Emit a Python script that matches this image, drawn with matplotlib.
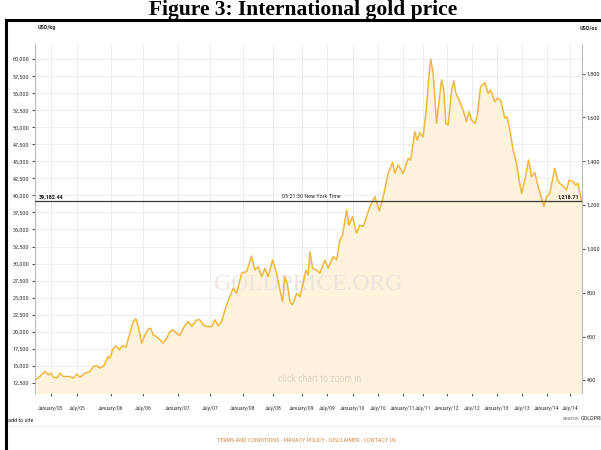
import numpy as np
import matplotlib

matplotlib.use("Agg")
import matplotlib.pyplot as plt
from matplotlib import font_manager
from matplotlib.lines import Line2D
from matplotlib.patches import Rectangle

# narrow sans for the chart text, if one is around
NARROW_CANDIDATES = ["Liberation Sans Narrow", "Roboto Condensed", "Open Sans Condensed",
                     "Arial Narrow", "DejaVu Sans Condensed"]
installed = {f.name for f in font_manager.fontManager.ttflist}
narrow = next((n for n in NARROW_CANDIDATES if n in installed), None)
if narrow is None:
    cond = sorted({f.name for f in font_manager.fontManager.ttflist
                   if str(f.stretch) in ("condensed", "semi-condensed", "extra-condensed")})
    narrow = cond[0] if cond else "DejaVu Sans"
plt.rcParams["font.family"] = [narrow, "DejaVu Sans"]
plt.rcParams["font.stretch"] = "condensed"
SMALL = 4.4 if narrow != "DejaVu Sans" else 3.4

# gold price, USD per kg, sampled along the 10 year chart
YEARS = [
    2004.725, 2004.885, 2004.948, 2004.994, 2005.044, 2005.110, 2005.173, 2005.237,
    2005.365, 2005.429, 2005.494, 2005.544, 2005.618, 2005.691, 2005.740, 2005.790,
    2005.838, 2005.887, 2005.960, 2005.985, 2006.027, 2006.078, 2006.130, 2006.183,
    2006.234, 2006.297, 2006.348, 2006.391, 2006.427, 2006.480, 2006.529, 2006.576,
    2006.610, 2006.647, 2006.696, 2006.743, 2006.790, 2006.839, 2006.886, 2006.933,
    2006.981, 2007.031, 2007.083, 2007.161, 2007.214, 2007.292, 2007.344, 2007.395,
    2007.448, 2007.526, 2007.576, 2007.626, 2007.677, 2007.742, 2007.803, 2007.853,
    2007.905, 2007.980, 2008.062, 2008.145, 2008.200, 2008.255, 2008.312, 2008.367,
    2008.422, 2008.495, 2008.564, 2008.621, 2008.667, 2008.707, 2008.747, 2008.793,
    2008.840, 2008.909, 2008.966, 2009.026, 2009.080, 2009.126, 2009.160, 2009.214,
    2009.294, 2009.360, 2009.460, 2009.525, 2009.621, 2009.687, 2009.750, 2009.802,
    2009.879, 2009.923, 2009.994, 2010.074, 2010.140, 2010.206, 2010.274, 2010.340,
    2010.406, 2010.440, 2010.530, 2010.606, 2010.706, 2010.794, 2010.840, 2010.906,
    2011.008, 2011.133, 2011.193, 2011.300, 2011.358, 2011.425, 2011.506, 2011.577,
    2011.631, 2011.667, 2011.715, 2011.785, 2011.840, 2011.890, 2011.938, 2011.979,
    2012.026, 2012.094, 2012.140, 2012.180, 2012.246, 2012.326, 2012.394, 2012.446,
    2012.494, 2012.560, 2012.606, 2012.674, 2012.760, 2012.826, 2012.874, 2012.960,
    2013.014, 2013.074, 2013.160, 2013.206, 2013.260, 2013.326, 2013.394, 2013.446,
    2013.494, 2013.560, 2013.634, 2013.694, 2013.760, 2013.826, 2013.894, 2013.940,
    2013.994, 2014.065, 2014.174, 2014.233, 2014.283, 2014.354, 2014.428, 2014.485,
    2014.572, 2014.630, 2014.680, 2014.754,
]
PRICE_KG = [
    13040, 14160, 13670, 13920, 13330, 13190, 13920, 13430,
    13430, 13190, 13780, 13330, 13920, 14160, 14890, 15000,
    14660, 14890, 16360, 16120, 17440, 17930, 17340, 17930,
    17740, 19790, 21490, 21880, 20760, 18320, 19540, 20370,
    20520, 19540, 19290, 18800, 18320, 19050, 20020, 20270,
    19790, 19430, 20520, 21490, 20760, 21740, 21740, 21000,
    20760, 20760, 21740, 20860, 21500, 23690, 25150, 26390,
    25650, 28580, 28820, 31120, 29070, 29550, 28090, 29310,
    28090, 30530, 28580, 26140, 24430, 28090, 27120, 24430,
    23940, 25650, 25150, 27120, 29070, 28330, 31750, 29310,
    29070, 28580, 30530, 29310, 31020, 30530, 33470, 34200,
    37860, 35660, 36890, 34450, 35660, 35420, 36890, 38300,
    39330, 39810, 37700, 39810, 43240, 44830, 43240, 44460,
    43240, 45440, 45190, 49350, 48120, 49200, 48610, 53010,
    57900, 59950, 57900, 50570, 53990, 56920, 55450, 50570,
    50320, 55450, 56820, 54970, 53990, 52520, 50810, 52280,
    51060, 50570, 51540, 55940, 56530, 54970, 55450, 53740,
    54240, 53990, 51310, 51540, 49590, 46660, 44710, 42260,
    40310, 42260, 45190, 42750, 43340, 41290, 39580, 38350,
    39810, 40310, 43970, 42260, 41780, 41380, 40800, 42260,
    42010, 41530, 41780, 39182.44,
]
LAST_KG = 39182.44
LAST_OZ = 1218.71
OZ_PER_KG = 32.1507

TICK_YEARS = list(np.arange(2005.0, 2015.0, 0.5))
TICK_LABELS = [
    "January/05", "July/05", "January/06", "July/06", "January/07", "July/07",
    "January/08", "July/08", "January/09", "July/09", "January/10", "July/10",
    "January/11", "July/11", "January/12", "July/12", "January/13", "July/13",
    "January/14", "July/14",
]
KG_TICKS = list(range(12500, 60001, 2500))
OZ_TICKS = list(range(400, 1801, 200))

# the time axis of this chart is stretched unevenly: half-year knots -> relative width
KNOT_YEARS = np.arange(2004.5, 2015.01, 0.5)
KNOT_POS = np.array([25, 51, 77, 111, 143, 178, 210, 243, 273, 302, 327, 353, 378,
                     403, 423, 447, 472, 497, 522, 547, 570, 593], dtype=float)


def fwd(x):
    return np.interp(x, KNOT_YEARS, KNOT_POS)


def inv(p):
    return np.interp(p, KNOT_POS, KNOT_YEARS)


LINE = "#f0b63e"
FILL = "#fdf2db"
GRID = "#ebebeb"
TXT = "#333333"

fig = plt.figure(figsize=(6.01, 4.5), dpi=100)
ax = fig.add_axes([0.058, 0.127, 0.91, 0.775])
ax.set_xscale("function", functions=(fwd, inv))

ax.fill_between(YEARS, PRICE_KG, 0, color=FILL, lw=0, zorder=1)
ax.plot(YEARS, PRICE_KG, color=LINE, lw=1.1, zorder=3)
ax.axhline(LAST_KG, color="#3a3a3a", lw=0.9, zorder=4)

ax.set_xlim(2004.69, 2014.76)
ax.set_ylim(11030, 62200)
ax.set_xticks(TICK_YEARS)
ax.set_xticklabels(TICK_LABELS)
ax.set_yticks(KG_TICKS)
ax.set_yticklabels([f"{v:,}" for v in KG_TICKS])
ax.grid(True, color=GRID, lw=0.6, zorder=0)
ax.set_axisbelow(True)
ax.tick_params(axis="both", labelsize=SMALL, colors="#555555", labelcolor=TXT,
               length=2.5, width=0.8, pad=1.5)
ax.tick_params(axis="x", pad=7, labelsize=SMALL - 0.3)
for side in ("top", "bottom"):
    ax.spines[side].set_visible(False)
for side in ("left", "right"):
    ax.spines[side].set_color("#bbbbbb")
    ax.spines[side].set_linewidth(0.8)

sec = ax.secondary_yaxis("right", functions=(lambda k: k / OZ_PER_KG,
                                             lambda o: o * OZ_PER_KG))
sec.set_yticks(OZ_TICKS)
sec.set_yticklabels([f"{v:,}" for v in OZ_TICKS])
sec.tick_params(labelsize=SMALL, colors="#555555", labelcolor=TXT, length=2,
                width=0.8, pad=1.5)
sec.spines["right"].set_visible(False)

# current price marker labels
ax.annotate(f"{LAST_KG:,.2f}", xy=(0.0, LAST_KG), xycoords=("axes fraction", "data"),
            xytext=(3, 1.5), textcoords="offset points", fontsize=SMALL,
            fontweight="bold", color="#222222", va="bottom", ha="left", zorder=5)
ax.annotate(f"{LAST_OZ:,.2f}", xy=(1.0, LAST_KG), xycoords=("axes fraction", "data"),
            xytext=(-2, 1.5), textcoords="offset points", fontsize=SMALL,
            fontweight="bold", color="#222222", va="bottom", ha="right", zorder=5)
ax.annotate("05:21:30 New York Time", xy=(0.505, LAST_KG),
            xycoords=("axes fraction", "data"), xytext=(0, 1.5),
            textcoords="offset points", fontsize=SMALL, color="#333333",
            va="bottom", ha="center", zorder=5)

# watermark and hint
ax.text(0.5, 0.31, "GOLDPRICE.ORG", transform=ax.transAxes, fontsize=17,
        family=["Liberation Serif", "DejaVu Serif"], color="#ebe6dd",
        ha="center", va="center", zorder=2)
ax.text(0.52, 0.04, "click chart to zoom in", transform=ax.transAxes,
        fontsize=SMALL + 2.6, color="#dcd5c7", ha="center", va="center", zorder=2)

# unit captions
fig.text(0.063, 1 - 28 / 450, "USD/kg", fontsize=SMALL, fontweight="bold",
         color="#333333", ha="left", va="center")
fig.text(0.995, 1 - 28 / 450, "USD/oz", fontsize=SMALL, fontweight="bold",
         color="#333333", ha="right", va="center")

# page chrome around the chart
fig.text(0.505, 1 - 15 / 450, "Figure 3: International gold price",
         family=["Liberation Serif", "DejaVu Serif"], fontweight="bold",
         fontsize=15.5, ha="center", va="baseline", zorder=1)
fig.patches.append(Rectangle((6 / 601, -0.05), 1.1, 1 - 20 / 450 + 0.05,
                             transform=fig.transFigure, fill=False,
                             ec="black", lw=2.2, zorder=2))
fig.add_artist(Line2D([0.015, 1.0], [1 - 426 / 450] * 2, transform=fig.transFigure,
                      color="#eeeeee", lw=0.8))
fig.text(0.013, 1 - 420 / 450, "add to site", fontsize=SMALL, color="#222222",
         ha="left", va="center")
fig.text(0.937, 1 - 419 / 450, "source:", fontsize=SMALL, color="#777777",
         ha="left", va="center")
fig.text(0.966, 1 - 419 / 450, "GOLDPRICE.ORG", fontsize=SMALL, color="#333333",
         ha="left", va="center")
fig.text(0.51, 1 - 441 / 450,
         "TERMS AND CONDITIONS - PRIVACY POLICY - DISCLAIMER - CONTACT US",
         fontsize=SMALL, color="#d8874a", ha="center", va="center")

fig.savefig("out.png", dpi=100)
